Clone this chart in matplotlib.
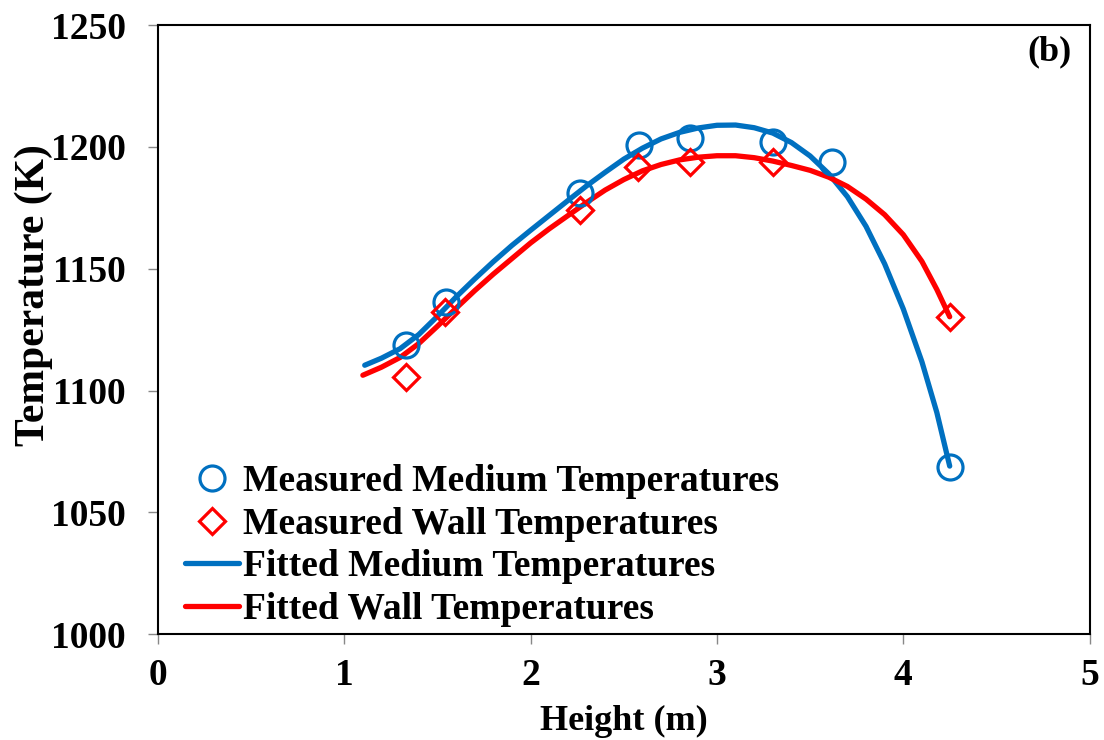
import numpy as np
import matplotlib.pyplot as plt

plt.rcParams['font.family'] = ['Liberation Serif', 'DejaVu Serif']
plt.rcParams['font.weight'] = 'bold'

# measured points
height = [1.334, 1.545, 2.264, 2.58, 2.854, 3.30, 3.617, 4.249]
medium_temp = [1118.6, 1136.4, 1181.2, 1200.7, 1203.5, 1202.1, 1193.9, 1068.7]

wall_height = [1.334, 1.54, 2.264, 2.577, 2.854, 3.30, 4.249]
wall_temp = [1105.6, 1132.3, 1174.1, 1191.8, 1193.9, 1193.9, 1130.3]

# fitted curves
fit_medium_x = [1.11, 1.20, 1.30, 1.40, 1.50, 1.60, 1.70, 1.80, 1.90, 2.00,
                2.10, 2.20, 2.30, 2.40, 2.50, 2.60, 2.70, 2.80, 2.90, 3.00,
                3.10, 3.20, 3.30, 3.40, 3.50, 3.60, 3.70, 3.80, 3.90, 4.00,
                4.10, 4.18, 4.249]
fit_medium_y = [1110.4, 1113.3, 1117.2, 1123.0, 1130.5, 1138.4, 1145.8, 1152.9, 1159.6, 1165.8,
                1171.9, 1178.0, 1184.0, 1189.6, 1195.0, 1199.5, 1203.3, 1206.0, 1207.8, 1208.9,
                1209.0, 1207.9, 1205.7, 1201.8, 1196.3, 1189.0, 1179.6, 1167.4, 1152.0, 1133.5,
                1111.8, 1091.0, 1069.0]

fit_wall_x = [1.10, 1.20, 1.30, 1.40, 1.50, 1.60, 1.70, 1.80, 1.90, 2.00,
              2.10, 2.20, 2.30, 2.40, 2.50, 2.60, 2.70, 2.80, 2.90, 3.00,
              3.10, 3.20, 3.30, 3.40, 3.50, 3.60, 3.70, 3.80, 3.90, 4.00,
              4.10, 4.18, 4.249]
fit_wall_y = [1106.3, 1109.6, 1113.6, 1119.3, 1126.4, 1133.8, 1141.0, 1147.8, 1154.2, 1160.6,
              1166.4, 1171.8, 1177.2, 1182.3, 1186.6, 1190.2, 1192.8, 1194.7, 1195.8, 1196.4,
              1196.4, 1195.6, 1194.2, 1192.4, 1190.4, 1187.6, 1183.8, 1178.6, 1172.2, 1164.0,
              1153.0, 1141.5, 1130.3]

blue = '#0070C0'
red = '#FF0000'

fig = plt.figure(figsize=(11.04, 7.40), dpi=100)
ax = fig.add_axes([0.143, 0.143, 0.844, 0.823])

ax.plot(height, medium_temp, 'o', ms=18, mfc='none', mec=blue, mew=2.3,
        label='Measured Medium Temperatures', zorder=3)
ax.plot(wall_height, wall_temp, 'D', ms=13.5, mfc='none', mec=red, mew=2.3,
        label='Measured Wall Temperatures', zorder=3)
ax.plot(fit_medium_x, fit_medium_y, '-', color=blue, lw=3.8,
        solid_capstyle='round', solid_joinstyle='round',
        label='Fitted Medium Temperatures', zorder=2)
ax.plot(fit_wall_x, fit_wall_y, '-', color=red, lw=3.8,
        solid_capstyle='round', solid_joinstyle='round',
        label='Fitted Wall Temperatures', zorder=2)

ax.set_xlim(0, 5)
ax.set_ylim(1000, 1250)
ax.set_xticks(np.arange(0, 6, 1))
ax.set_yticks(np.arange(1000, 1251, 50))
ax.tick_params(direction='out', length=7, width=1, color='#888888',
               labelsize=27)
ax.tick_params(axis='y', pad=16)
ax.tick_params(axis='x', pad=10)
for s in ax.spines.values():
    s.set_linewidth(1.5)

ax.set_xlabel('Height (m)', fontsize=26, fontweight='bold', labelpad=9)
ax.set_ylabel('Temperature (K)', fontsize=30, fontweight='bold')
ax.yaxis.set_label_coords(-0.113, 0.557)

ax.text(0.981, 0.956, '(b)', transform=ax.transAxes, ha='right', va='center',
        fontsize=26, fontweight='bold')

ax.legend(loc='lower left', bbox_to_anchor=(0.021, 0.0), frameon=False,
          handlelength=1.45, handletextpad=0.1, labelspacing=0.2,
          borderaxespad=0.1, borderpad=0.1,
          prop={'weight': 'bold', 'size': 27})

fig.savefig('out.png', dpi=100)
